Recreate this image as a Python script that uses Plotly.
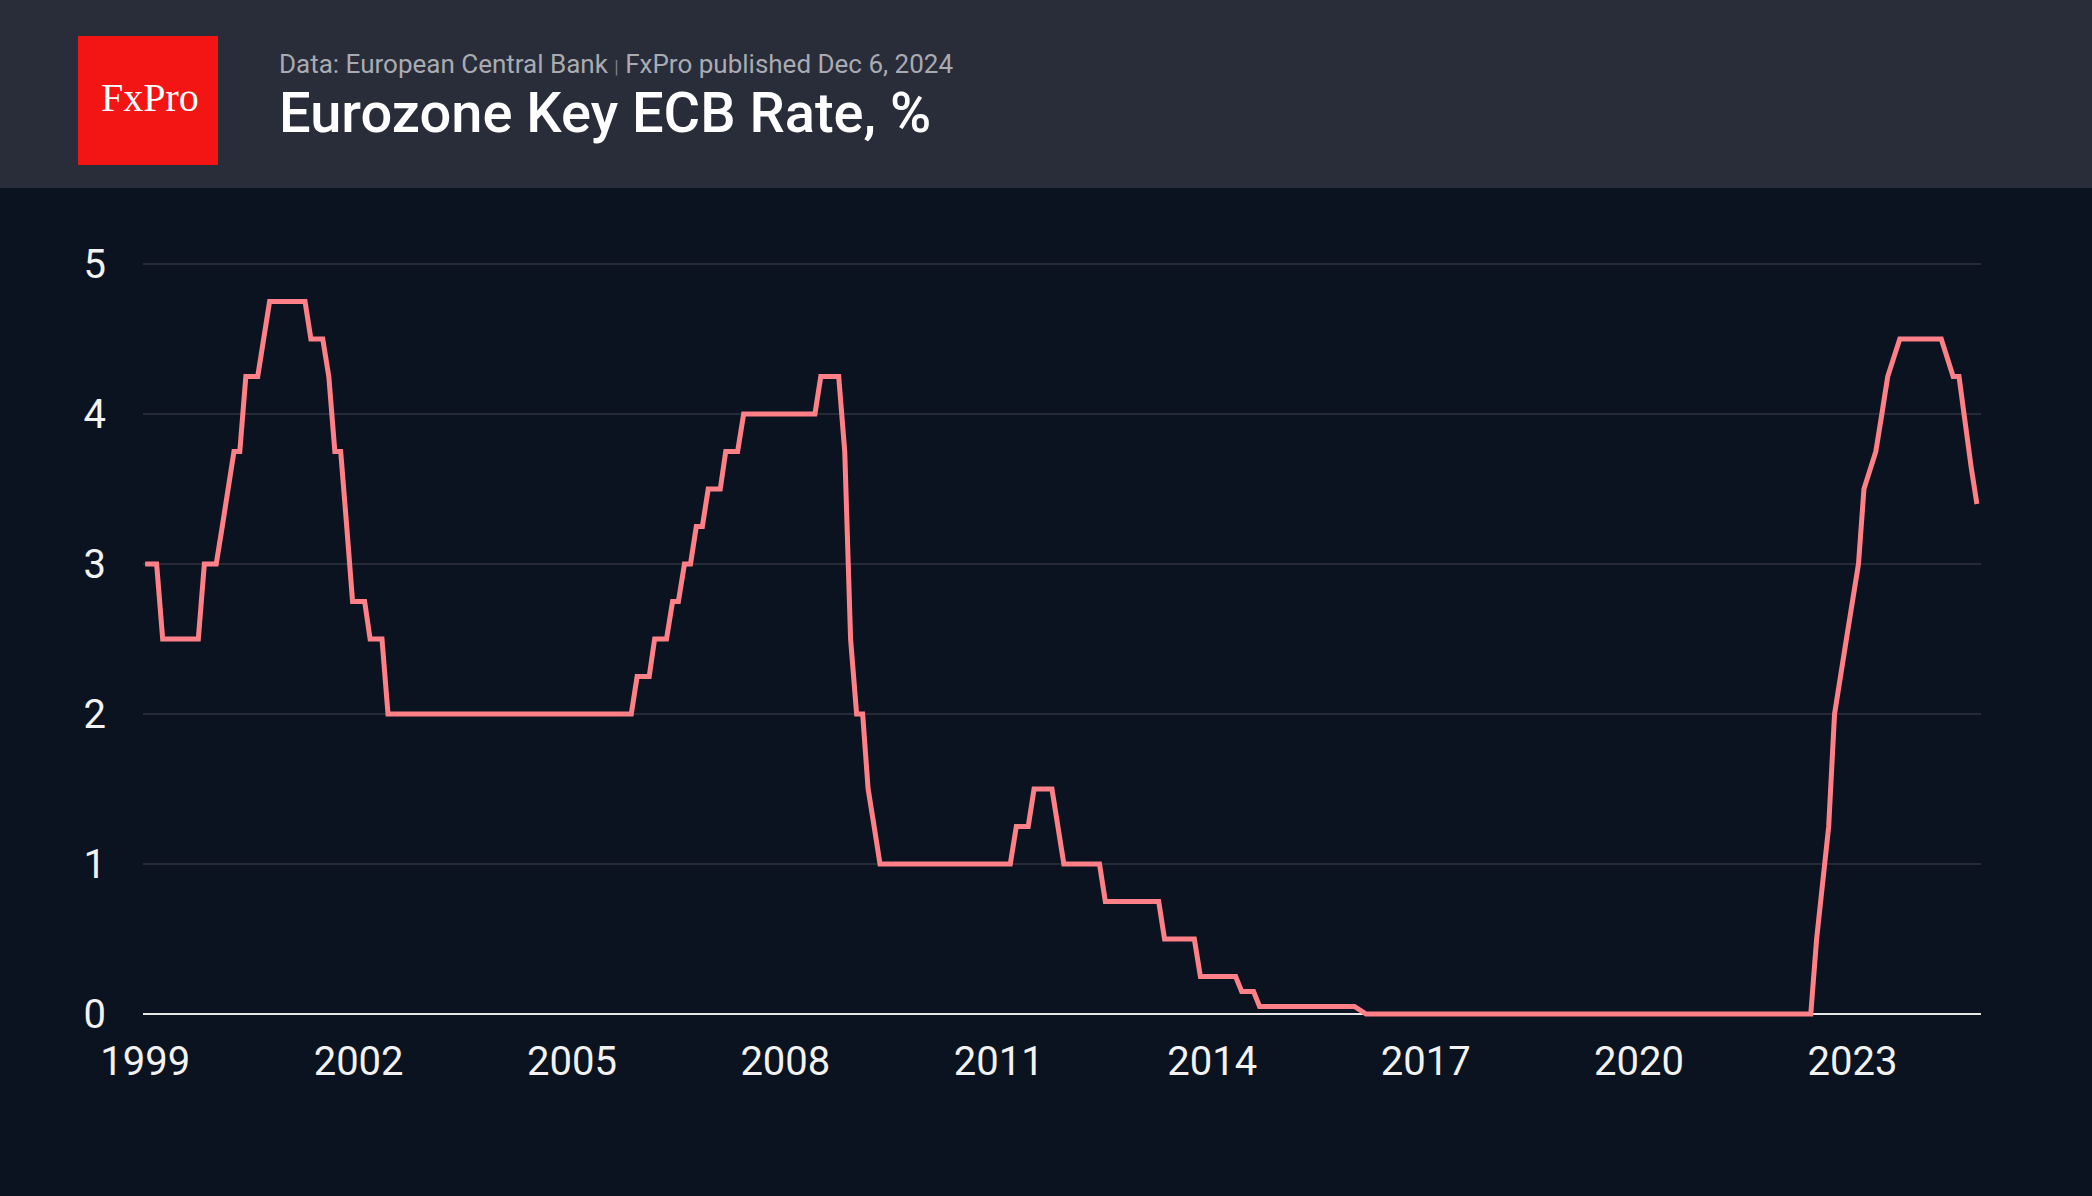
import plotly.graph_objects as go

# ---- data (monthly vertices of the ECB key rate, %) ----
dates = ["1999-01-01", "1999-03-01", "1999-04-01", "1999-10-01", "1999-11-01",
         "2000-01-01", "2000-02-01", "2000-03-01", "2000-04-01", "2000-05-01",
         "2000-06-01", "2000-08-01", "2000-09-01", "2000-10-01", "2001-04-01",
         "2001-05-01", "2001-07-01", "2001-08-01", "2001-09-01", "2001-10-01",
         "2001-11-01", "2001-12-01", "2002-02-01", "2002-03-01", "2002-05-01",
         "2002-06-01", "2005-11-01", "2005-12-01", "2006-02-01", "2006-03-01",
         "2006-05-01", "2006-06-01", "2006-07-01", "2006-08-01", "2006-09-01",
         "2006-10-01", "2006-11-01", "2006-12-01", "2007-02-01", "2007-03-01",
         "2007-05-01", "2007-06-01", "2008-06-01", "2008-07-01", "2008-10-01",
         "2008-11-01", "2008-12-01", "2009-01-01", "2009-02-01", "2009-03-01",
         "2009-04-01", "2009-05-01", "2011-03-01", "2011-04-01", "2011-06-01",
         "2011-07-01", "2011-10-01", "2011-11-01", "2011-12-01", "2012-06-01",
         "2012-07-01", "2013-04-01", "2013-05-01", "2013-10-01", "2013-11-01",
         "2014-05-01", "2014-06-01", "2014-08-01", "2014-09-01", "2016-01-01",
         "2016-03-01", "2022-06-01", "2022-07-01", "2022-09-01", "2022-10-01",
         "2022-12-01", "2023-02-01", "2023-03-01", "2023-05-01", "2023-06-01",
         "2023-07-01", "2023-09-01", "2024-04-01", "2024-06-01", "2024-07-01",
         "2024-09-01", "2024-10-01"]
rates = [3.0, 3.0, 2.5, 2.5, 3.0,
         3.0, 3.25, 3.5, 3.75, 3.75,
         4.25, 4.25, 4.5, 4.75, 4.75,
         4.5, 4.5, 4.25, 3.75, 3.75,
         3.25, 2.75, 2.75, 2.5, 2.5,
         2.0, 2.0, 2.25, 2.25, 2.5,
         2.5, 2.75, 2.75, 3.0, 3.0,
         3.25, 3.25, 3.5, 3.5, 3.75,
         3.75, 4.0, 4.0, 4.25, 4.25,
         3.75, 2.5, 2.0, 2.0, 1.5,
         1.25, 1.0, 1.0, 1.25, 1.25,
         1.5, 1.5, 1.25, 1.0, 1.0,
         0.75, 0.75, 0.5, 0.5, 0.25,
         0.25, 0.15, 0.15, 0.05, 0.05,
         0.0, 0.0, 0.5, 1.25, 2.0,
         2.5, 3.0, 3.5, 3.75, 4.0,
         4.25, 4.5, 4.5, 4.25, 4.25,
         3.65, 3.40]
tick_years = ["1999", "2002", "2005", "2008", "2011", "2014", "2017", "2020", "2023"]
y_ticks = [0, 1, 2, 3, 4, 5]

title_text = "Eurozone Key ECB Rate, %"
source_left = "Data: European Central Bank"
source_right = "FxPro published Dec 6, 2024"
logo_text = "FxPro"

# ---- layout geometry ----
W, H = 2092, 1196
L, R, T, B = 143, 111, 234, 167
PW, PH = W - L - R, H - T - B
PLOT_BOTTOM = H - B


def px2x(px):
    return (px - L) / PW


def px2y(py):
    return (PLOT_BOTTOM - py) / PH


BG = "#0c1320"
HEADER = "#292c39"
LINE = "#ff8087"
GRID = "#262b37"

fig = go.Figure()
fig.add_trace(go.Scatter(
    x=dates, y=rates, mode="lines",
    line=dict(color=LINE, width=5, shape="linear"),
    hoverinfo="skip", showlegend=False,
))

fig.update_layout(
    width=W, height=H,
    margin=dict(l=L, r=R, t=T, b=B, pad=0),
    paper_bgcolor=BG, plot_bgcolor=BG,
    font=dict(family="Roboto", color="#f2f2f2", size=40),
    xaxis=dict(
        type="date",
        range=["1998-12-21", "2024-10-22"],
        tickvals=[f"{y}-01-01" for y in tick_years],
        ticktext=tick_years,
        showgrid=False, zeroline=False, showline=False,
        ticks="", ticklabelstandoff=5,
        tickfont=dict(family="Roboto", size=40, color="#f2f2f2"),
        fixedrange=True,
    ),
    yaxis=dict(
        range=[-0.1, 5.2],
        tickvals=y_ticks,
        showgrid=True, gridcolor=GRID, gridwidth=2,
        zeroline=True, zerolinecolor="#e6e6e6", zerolinewidth=2,
        showline=False, ticks="", ticklabelstandoff=36,
        tickfont=dict(family="Roboto", size=40, color="#f2f2f2"),
        fixedrange=True,
    ),
    shapes=[
        dict(type="rect", xref="paper", yref="paper",
             x0=px2x(-10), x1=px2x(W + 10), y0=px2y(188), y1=px2y(-10),
             fillcolor=HEADER, line=dict(width=0), layer="below"),
        dict(type="rect", xref="paper", yref="paper",
             x0=px2x(78), x1=px2x(218), y0=px2y(165), y1=px2y(36),
             fillcolor="#f31414", line=dict(width=0), layer="above"),
    ],
    annotations=[
        dict(xref="paper", yref="paper", x=px2x(149.5), y=px2y(97),
             xanchor="center", yanchor="middle", showarrow=False,
             text=logo_text,
             font=dict(family="Liberation Serif", size=40, color="#ffffff")),
        dict(xref="paper", yref="paper", x=px2x(277), y=px2y(113),
             xanchor="left", yanchor="middle", showarrow=False,
             text=title_text,
             font=dict(family="Roboto", size=56, color="#ffffff", weight=500)),
        dict(xref="paper", yref="paper", x=px2x(277), y=px2y(64),
             xanchor="left", yanchor="middle", showarrow=False,
             text=(source_left
                   + " <span style='font-size:18px;color:#80838c'>|</span> "
                   + source_right),
             font=dict(family="Roboto", size=26, color="#a9abb2")),
    ],
)

fig.write_html("out.html", config={"displayModeBar": False},
               post_script="document.body.style.margin='0';")
